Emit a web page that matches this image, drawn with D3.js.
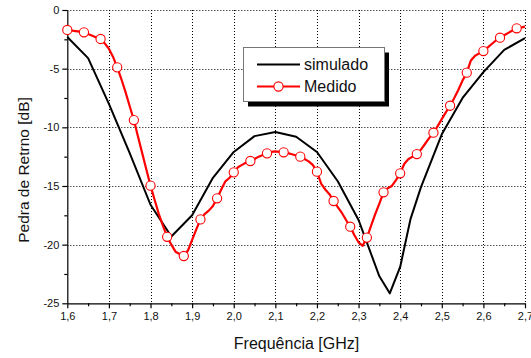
<!DOCTYPE html>
<html>
<head>
<meta charset="utf-8">
<script src="https://cdn.jsdelivr.net/npm/d3@7"></script>
<style>
  html, body { margin: 0; padding: 0; background: #fff; }
  svg { display: block; font-family: "Liberation Sans", Arial, sans-serif; }
</style>
</head>
<body>
<svg id="chart" width="531" height="358"></svg>
<script>
// ---- data ----
const simFreq = [1.60, 1.65, 1.70, 1.75, 1.80, 1.85, 1.90, 1.95, 2.00, 2.05, 2.10, 2.15, 2.20, 2.25, 2.30, 2.35, 2.375, 2.40, 2.425, 2.45, 2.50, 2.55, 2.60, 2.65, 2.70];
const simLoss = [-2.3, -4.1, -8.0, -12.2, -16.6, -19.3, -17.5, -14.3, -12.1, -10.75, -10.4, -10.8, -12.1, -14.6, -17.9, -22.7, -24.15, -21.9, -17.8, -15.1, -10.6, -7.5, -5.3, -3.4, -2.4];

const measFreq = [
  1.60, 1.61, 1.62, 1.63, 1.64, 1.65, 1.66, 1.67, 1.68, 1.69,
  1.70, 1.71, 1.72, 1.73, 1.74, 1.75, 1.76, 1.77, 1.78, 1.79,
  1.80, 1.81, 1.82, 1.83, 1.84, 1.85, 1.86, 1.87, 1.88, 1.89,
  1.90, 1.91, 1.92, 1.93, 1.94, 1.95, 1.96, 1.97, 1.98, 1.99,
  2.00, 2.01, 2.02, 2.03, 2.04, 2.05, 2.06, 2.07, 2.08, 2.09,
  2.10, 2.11, 2.12, 2.13, 2.14, 2.15, 2.16, 2.17, 2.18, 2.19,
  2.20, 2.21, 2.22, 2.23, 2.24, 2.25, 2.26, 2.27, 2.28, 2.29,
  2.30, 2.31, 2.32, 2.33, 2.34, 2.35, 2.36, 2.37, 2.38, 2.39,
  2.40, 2.41, 2.42, 2.43, 2.44, 2.45, 2.46, 2.47, 2.48, 2.49,
  2.50, 2.51, 2.52, 2.53, 2.54, 2.55, 2.56, 2.57, 2.58, 2.59,
  2.60, 2.61, 2.62, 2.63, 2.64, 2.65, 2.66, 2.67, 2.68, 2.69,
  2.70];
const measLoss = [
  -1.70, -1.75, -1.80, -1.85, -1.90, -2.05, -2.20, -2.35, -2.47, -2.85,
  -3.30, -4.00, -4.89, -5.90, -7.00, -8.20, -9.38, -10.80, -12.20, -13.60,
  -14.97, -16.20, -17.40, -18.40, -19.33, -20.00, -20.60, -20.80, -20.97, -20.50,
  -19.60, -18.70, -17.85, -17.40, -17.10, -16.70, -16.05, -15.30, -14.60, -14.30,
  -13.84, -13.40, -13.20, -13.00, -12.87, -12.70, -12.50, -12.35, -12.22, -12.10,
  -12.05, -12.10, -12.13, -12.20, -12.30, -12.40, -12.50, -12.70, -12.90, -13.20,
  -13.78, -14.80, -15.30, -15.70, -16.28, -16.80, -17.30, -17.90, -18.47, -19.20,
  -19.80, -20.10, -19.40, -18.40, -17.40, -16.50, -15.54, -15.20, -15.00, -14.50,
  -13.92, -13.10, -12.70, -12.50, -12.28, -11.90, -11.40, -10.90, -10.46, -9.90,
  -9.30, -8.70, -8.16, -7.50, -6.80, -6.00, -5.34, -4.30, -3.90, -3.70,
  -3.50, -3.20, -2.90, -2.60, -2.36, -2.15, -1.95, -1.75, -1.56, -1.50,
  -1.42];
const markerEvery = 4;

const xTicks = [1.6, 1.7, 1.8, 1.9, 2.0, 2.1, 2.2, 2.3, 2.4, 2.5, 2.6, 2.7];
const xTickLabels = ["1,6", "1,7", "1,8", "1,9", "2,0", "2,1", "2,2", "2,3", "2,4", "2,5", "2,6", "2,7"];
const xMinorTicks = [1.65, 1.75, 1.85, 1.95, 2.05, 2.15, 2.25, 2.35, 2.45, 2.55, 2.65];
const yTicks = [0, -5, -10, -15, -20, -25];
const yTickLabels = ["0", "-5", "-10", "-15", "-20", "-25"];
const yMinorTicks = [-2.5, -7.5, -12.5, -17.5, -22.5];

const seriesNames = ["simulado", "Medido"];
const xTitle = "Frequência [GHz]";
const yTitle = "Pedra de Retrno [dB]";

// ---- layout ----
const svg = d3.select("#chart");
const x = d3.scaleLinear().domain([1.6, 2.7]).range([67.3, 525]);
const y = d3.scaleLinear().domain([-25, 0]).range([303.3, 10]);

// grid
const grid = svg.append("g").attr("stroke", "#000").attr("stroke-width", 1)
  .attr("stroke-dasharray", "1,2").attr("fill", "none");
grid.selectAll("line.gx").data(xTicks.slice(1)).join("line")
  .attr("x1", d => Math.round(x(d)) + 0.5).attr("x2", d => Math.round(x(d)) + 0.5)
  .attr("y1", y(0)).attr("y2", y(-25));
grid.selectAll("line.gy").data(yTicks.slice(0, -1)).join("line")
  .attr("y1", d => Math.round(y(d)) + 0.5).attr("y2", d => Math.round(y(d)) + 0.5)
  .attr("x1", x(1.6)).attr("x2", x(2.7));

// axes
const xAxis = svg.append("g").attr("transform", `translate(0,${y(-25)})`)
  .call(d3.axisBottom(x).tickValues(xTicks).tickSizeInner(5).tickSizeOuter(0).tickPadding(4)
    .tickFormat((d, i) => xTickLabels[i]));
svg.append("g").attr("transform", `translate(0,${y(-25)})`)
  .call(d3.axisBottom(x).tickValues(xMinorTicks).tickSizeInner(3).tickSizeOuter(0).tickFormat(""))
  .call(g => g.select(".domain").remove());
const yAxis = svg.append("g").attr("transform", `translate(${x(1.6)},0)`)
  .call(d3.axisLeft(y).tickValues(yTicks).tickSizeInner(5).tickSizeOuter(0).tickPadding(3)
    .tickFormat((d, i) => yTickLabels[i]));
svg.append("g").attr("transform", `translate(${x(1.6)},0)`)
  .call(d3.axisLeft(y).tickValues(yMinorTicks).tickSizeInner(3).tickSizeOuter(0).tickFormat(""))
  .call(g => g.select(".domain").remove());
svg.selectAll(".tick text").attr("font-size", 11).attr("fill", "#111")
  .attr("font-family", '"Liberation Sans", Arial, sans-serif');
svg.selectAll(".domain, .tick line").attr("stroke", "#000").attr("stroke-width", 1.2);

// lines
const lineGen = d3.line().x(d => x(d[0])).y(d => y(d[1]));
const simPts = simFreq.map((f, i) => [f, simLoss[i]]);
const measPts = measFreq.map((f, i) => [f, measLoss[i]]);

svg.append("path").datum(simPts).attr("d", lineGen)
  .attr("fill", "none").attr("stroke", "#000").attr("stroke-width", 2).attr("stroke-linejoin", "round");
svg.append("path").datum(measPts).attr("d", lineGen)
  .attr("fill", "none").attr("stroke", "#ff0000").attr("stroke-width", 2.2).attr("stroke-linejoin", "round");
svg.append("g").selectAll("circle").data(measPts.filter((d, i) => i % markerEvery === 0 && i < measPts.length - 1))
  .join("circle")
  .attr("cx", d => x(d[0])).attr("cy", d => y(d[1])).attr("r", 4.6)
  .attr("fill", "#fff").attr("stroke", "#ff0000").attr("stroke-width", 1.1);

// legend
const lg = svg.append("g");
lg.append("rect").attr("x", 248).attr("y", 52.5).attr("width", 141).attr("height", 54).attr("fill", "#000");
lg.append("rect").attr("x", 243.5).attr("y", 47.5).attr("width", 141).attr("height", 54)
  .attr("fill", "#fff").attr("stroke", "#777").attr("stroke-width", 1);
lg.append("line").attr("x1", 257).attr("x2", 300).attr("y1", 64.5).attr("y2", 64.5)
  .attr("stroke", "#000").attr("stroke-width", 2);
lg.append("line").attr("x1", 257).attr("x2", 300).attr("y1", 86.5).attr("y2", 86.5)
  .attr("stroke", "#ff0000").attr("stroke-width", 2.2);
lg.append("circle").attr("cx", 278.5).attr("cy", 86.5).attr("r", 4.6)
  .attr("fill", "#fff").attr("stroke", "#ff0000").attr("stroke-width", 1.1);
lg.selectAll("text").data(seriesNames).join("text")
  .attr("x", 304).attr("y", (d, i) => 70 + i * 22)
  .attr("font-size", 16).attr("fill", "#111").text(d => d);

// axis titles
svg.append("text").attr("x", 296.5).attr("y", 349).attr("text-anchor", "middle")
  .attr("font-size", 16).attr("fill", "#111").text(xTitle);
svg.append("text").attr("transform", "translate(29,170) rotate(-90)").attr("text-anchor", "middle")
  .attr("font-size", 15.5).attr("fill", "#111").text(yTitle);
</script>
</body>
</html>
